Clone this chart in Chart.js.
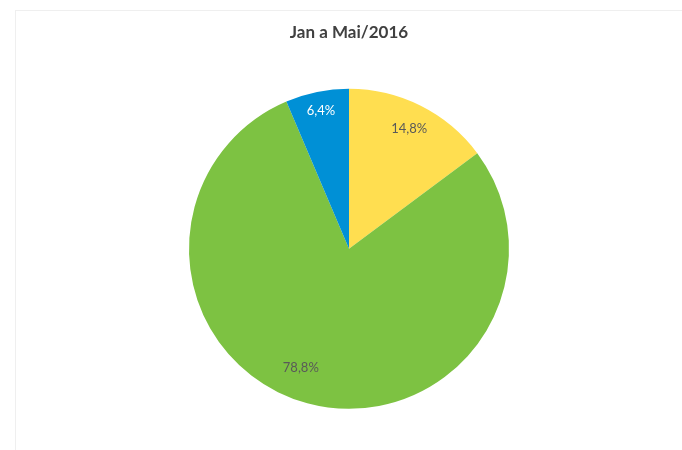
<!DOCTYPE html>
<html>
<head>
<meta charset="utf-8">
<script src="https://cdn.jsdelivr.net/npm/chart.js@4/dist/chart.umd.min.js"></script>
<style>
  html, body { margin: 0; padding: 0; background: #fff; }
  #wrap { position: relative; width: 682px; height: 450px; }
  #frame { position: absolute; left: 15px; top: 10px; right: -5px; bottom: -5px;
           border-top: 1px solid #efefef; border-left: 1px solid #efefef; }
  canvas { position: absolute; left: 0; top: 0; }
</style>
</head>
<body>
<div id="wrap">
  <div id="frame"></div>
  <canvas id="pieChart" width="682" height="450"></canvas>
</div>
<script>
"use strict";

// dados (Jan a Mai/2016)
var categories = ['Categoria 1', 'Categoria 2', 'Categoria 3'];
var values     = [14.8, 78.8, 6.4];
var sliceColors = ['#FFDE50', '#7DC242', '#0090D6'];
var labelColors = ['#595959', '#595959', '#ffffff'];
// distancia do rotulo ao centro (fracao do raio) e ajuste de angulo (graus)
var labelRadius = [0.84, 0.80, 0.88];
var labelTurn   = [0, 7, 0];

//Plugin simples para escrever as percentagens dentro das fatias
var sliceLabels = {
    id: 'sliceLabels',
    afterDatasetsDraw: function(chart) {
        var ctx = chart.ctx;
        var meta = chart.getDatasetMeta(0);
        ctx.save();
        ctx.font = '13px Lato, "Open Sans", sans-serif';
        ctx.textAlign = 'center';
        ctx.textBaseline = 'middle';
        meta.data.forEach(function(arc, i) {
            var p = arc.getProps(['x', 'y', 'startAngle', 'endAngle', 'outerRadius'], true);
            var mid = (p.startAngle + p.endAngle) / 2 + labelTurn[i] * Math.PI / 180;
            var r = p.outerRadius * labelRadius[i];
            var text = values[i].toFixed(1).replace('.', ',') + '%';
            ctx.fillStyle = labelColors[i];
            ctx.fillText(text, p.x + Math.cos(mid) * r, p.y + Math.sin(mid) * r);
        });
        ctx.restore();
    }
};

var myPieChart = new Chart(document.getElementById('pieChart'), {
    type: 'pie',
    data: {
        labels: categories,
        datasets: [{
            data: values,
            backgroundColor: sliceColors,
            borderWidth: 0
        }]
    },
    options: {
        responsive: false,
        animation: false,
        layout: { padding: { top: 13, bottom: 41, left: 189, right: 173 } },
        plugins: {
            legend: { display: false },
            tooltip: { enabled: false },
            title: {
                display: true,
                text: 'Jan a Mai/2016',
                color: '#404040',
                font: { family: 'Lato, "Open Sans", sans-serif', size: 17, weight: 'bold' },
                padding: { top: 9.4, bottom: 45.8 }
            }
        }
    },
    plugins: [sliceLabels]
});
</script>
</body>
</html>
